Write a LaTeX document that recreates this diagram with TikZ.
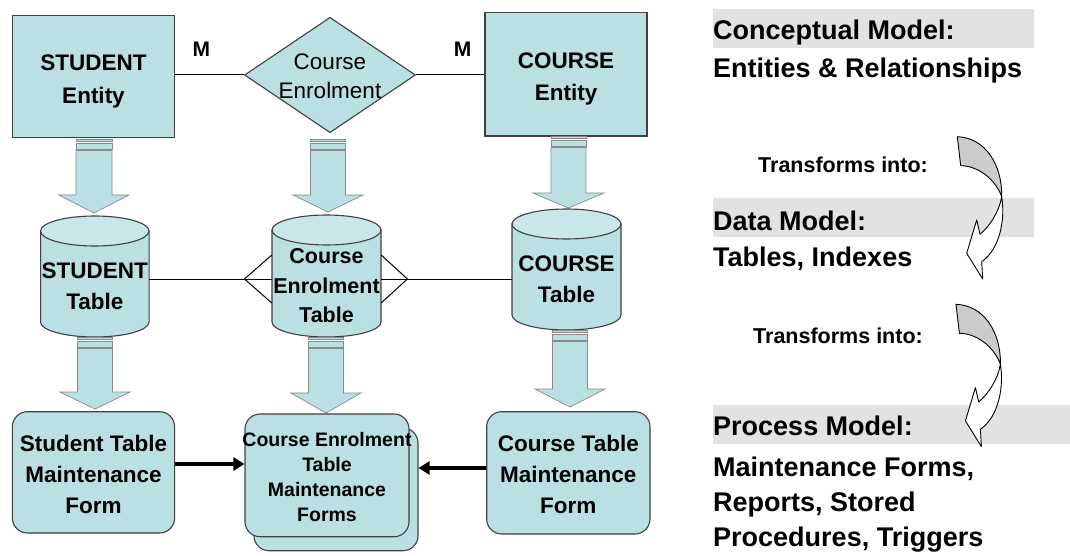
\documentclass[tikz,border=0pt]{standalone}
\usepackage{fontspec}
\setmainfont{Liberation Sans}
\usetikzlibrary{shapes.geometric,arrows.meta,calc}
\definecolor{boxfill}{HTML}{BBE0E3}
\definecolor{cyltop}{HTML}{C9E7EA}
\definecolor{edge}{HTML}{404040}
\definecolor{arredge}{HTML}{8A8A8A}
\definecolor{barfill}{HTML}{E2E2E2}
\definecolor{curvgray}{HTML}{CBCBCB}
\newcommand\txtlines[2][c]{\begin{tabular}[t]{@{}#1@{}}#2\end{tabular}}
\newcommand\fsz[2]{\fontsize{#1}{#2}\selectfont}
% block arrow: cx, top, headstart, tip, shafthalf, headhalf (image y, downward)
\newcommand\blockarrow[6]{%
  \filldraw[fill=boxfill,draw=arredge,line width=0.7pt] (#1-#5,-#2) rectangle (#1+#5,-#2-2.5);
  \filldraw[fill=boxfill,draw=arredge,line width=0.7pt] (#1-#5,-#2-4) rectangle (#1+#5,-#2-10);
  \filldraw[fill=boxfill,draw=arredge,line width=0.7pt] (#1-#5,-#2-11.5) -- (#1-#5,-#3) -- (#1-#6,-#3) -- (#1,-#4) -- (#1+#6,-#3) -- (#1+#5,-#3) -- (#1+#5,-#2-11.5) -- cycle;}
% cylinder: name, cx, top, bottom, rx
\newcommand\cylshape[5]{%
  \filldraw[fill=boxfill,draw=edge,line width=1.1pt] (#2-#5,-#3-15) -- (#2-#5,-#4+15) arc[start angle=180,end angle=360,x radius=#5,y radius=15] -- (#2+#5,-#3-15) -- cycle;
  \filldraw[fill=cyltop,draw=edge,line width=1.1pt] (#2,-#3-15) ellipse [x radius=#5, y radius=15];
  \node[holder,minimum width=2*#5,minimum height=#4-#3] (#1) at (#2,{-(#3+#4)/2}) {};}
% curved arrow with top-left corner at given point
\newcommand\curvedarrow[2]{%
  \begin{scope}[shift={(#1,#2)}]
    \filldraw[fill=curvgray,draw=black,line width=0.9pt,line join=round] (0,0) .. controls (28,-1) and (45,-28) .. (44.4,-60) .. controls (38,-42) and (20,-29) .. (3.4,-29) -- cycle;
    \filldraw[fill=white,draw=black,line width=0.9pt,line join=round] (44.4,-60) .. controls (48,-82) and (43,-112) .. (24.4,-125) -- (25.4,-142.3) -- (9.4,-116.6) -- (19.4,-83.3) -- (22.7,-97.6) .. controls (32,-90) and (42,-75) .. (44.4,-60) -- cycle;
  \end{scope}}
\begin{document}
\begin{tikzpicture}[x=1pt,y=1pt,
  entitybox/.style={draw=edge,line width=1.1pt,fill=boxfill,rectangle,inner sep=0pt},
  formbox/.style={draw=edge,line width=1.1pt,fill=boxfill,rectangle,rounded corners=15pt,inner sep=0pt},
  relbox/.style={draw=edge,line width=1.1pt,fill=boxfill,diamond,inner sep=0pt},
  holder/.style={rectangle,inner sep=0pt},
  lbl/.style={inner sep=0pt,anchor=base},
  rtext/.style={inner sep=0pt,anchor=base west,font=\fsz{27}{35}\bfseries},
  ttext/.style={inner sep=0pt,anchor=base west,font=\fsz{21.5}{26}\bfseries},
  conn/.style={draw=black,line width=1pt},
  formarrow/.style={draw=black,line width=3.5pt,-{Triangle[length=11pt,width=13pt]}},
  greybar/.style={fill=barfill}]
\useasboundingbox (0,0) rectangle (1070,-556);
\fill[white] (0,0) rectangle (1070,-556);

% ---------- right column ----------
\fill[greybar] (713,-9.3) rectangle (1034,-47.7);
\fill[greybar] (713,-198.3) rectangle (1034,-237.3);
\fill[greybar] (713,-405) rectangle (1070,-444);
\node[rtext] (cm) at (713,-39.3) {Conceptual Model:};
\node[rtext] (er) at (713,-77.3) {Entities \& Relationships};
\node[ttext] (t1) at (758,-172.7) {Transforms into:};
\node[rtext] (dm) at (713,-230) {Data Model:};
\node[rtext] (ti) at (713,-266.7) {Tables, Indexes};
\node[ttext] (t2) at (753,-343.3) {Transforms into:};
\node[rtext] (pm) at (713,-435) {Process Model:};
\node[rtext] (pmd) at (713,-476.7) {\txtlines[l]{Maintenance Forms,\\Reports, Stored\\Procedures, Triggers}};
\curvedarrow{957.3}{-136.7}
\curvedarrow{956}{-304.3}

% ---------- conceptual row ----------
\node[entitybox,minimum width=161.6,minimum height=122] (sent) at (93.5,-76.7) {};
\node[lbl,font=\fsz{22.5}{32.5}\bfseries] (sentt) at (93.5,-70.7) {\txtlines{STUDENT\\Entity}};
\node[relbox,minimum width=171,minimum height=115.4] (rel) at (330,-75) {};
\node[lbl,font=\fsz{22.5}{29}\mdseries] (relt) at (330,-70) {\txtlines{Course\\Enrolment}};
\node[entitybox,minimum width=162,minimum height=123.3] (cent) at (566,-74.35) {};
\node[lbl,font=\fsz{22.5}{32}\bfseries] (centt) at (566,-68.3) {\txtlines{COURSE\\Entity}};
\draw[conn] (sent.east |- rel.west) -- (rel.west);
\draw[conn] (rel.east) -- (rel.east -| cent.west);
\node[lbl,font=\fsz{21}{25}\bfseries] (m1) at (201.4,-56.5) {M};
\node[lbl,font=\fsz{21}{25}\bfseries] (m2) at (462.7,-56.5) {M};

\blockarrow{94}{139}{195}{213}{18}{35}
\blockarrow{328}{139}{195}{212}{17.5}{35}
\blockarrow{568.5}{136}{193}{208}{17.5}{35.5}

% ---------- data row ----------
\cylshape{stab}{94.8}{216}{337}{54.25}
\cylshape{etab}{326.5}{215}{337}{54.5}
\cylshape{ctab}{566.5}{209}{330}{54.5}
\node[lbl,font=\fsz{22.5}{31}\bfseries] (stabt) at (94.8,-278.3) {\txtlines{STUDENT\\Table}};
\node[lbl,font=\fsz{21.5}{29.8}\bfseries] (etabt) at (326.5,-263.3) {\txtlines{Course\\Enrolment\\Table}};
\node[lbl,font=\fsz{22.5}{31}\bfseries] (ctabt) at (566.5,-271.7) {\txtlines{COURSE\\Table}};
\coordinate (rowy) at (0,-279);
\coordinate (cfl) at (244.5,-279);
\coordinate (cfr) at (407.4,-279);
\draw[conn] (stab.east |- rowy) -- (etab.west |- rowy);
\draw[conn] (etab.east |- rowy) -- (ctab.west |- rowy);
\draw[conn] ($(etab.west |- rowy)+(0,24)$) -- (cfl) -- ($(etab.west |- rowy)+(0,-24)$);
\draw[conn] ($(etab.east |- rowy)+(0,24)$) -- (cfr) -- ($(etab.east |- rowy)+(0,-24)$);

\blockarrow{95}{337}{392}{409}{17.5}{35}
\blockarrow{326}{337}{393}{413}{17.5}{35}
\blockarrow{570}{330}{389}{407}{17.5}{35}

% ---------- process row ----------
\node[formbox,minimum width=162.2,minimum height=121.3] (sform) at (93.5,-472.35) {};
\node[lbl,font=\fsz{22.5}{31}\bfseries] (sformt) at (93.5,-451.7) {\txtlines{Student Table\\Maintenance\\Form}};
\node[formbox,minimum width=164,minimum height=122.7] (eformb) at (336,-489.35) {};
\node[formbox,minimum width=164,minimum height=122.7] (eform) at (327,-475.35) {};
\node[lbl,font=\fsz{19.5}{25}\bfseries] (eformt) at (327,-446.7) {\txtlines{Course Enrolment\\Table\\Maintenance\\Forms}};
\node[formbox,minimum width=163.3,minimum height=122.3] (cform) at (568.35,-472.85) {};
\node[lbl,font=\fsz{22.5}{31}\bfseries] (cformt) at (568.35,-451.7) {\txtlines{Course Table\\Maintenance\\Form}};
\coordinate (fa1) at (0,-464);
\coordinate (fa2) at (0,-468);
\draw[formarrow] (sform.east |- fa1) -- (eform.west |- fa1);
\draw[formarrow] (cform.west |- fa2) -- (eformb.east |- fa2);
\end{tikzpicture}
\end{document}
